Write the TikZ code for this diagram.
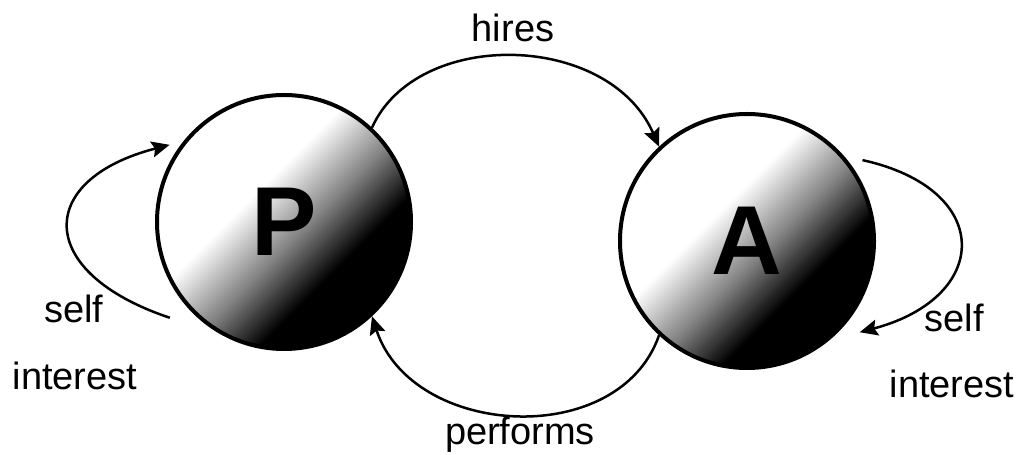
\documentclass[tikz,border=0pt]{standalone}
\usepackage{fontspec}
\setmainfont{Liberation Sans}
\usetikzlibrary{arrows.meta,calc}
\pgfdeclareverticalshading{agentshade}{100bp}{color(0bp)=(black); color(36bp)=(black); color(46bp)=(gray); color(58bp)=(white); color(100bp)=(white)}
\tikzset{
  agent/.style={circle, draw, line width=4pt, minimum size=254pt, inner sep=0pt, shade, shading=agentshade, shading angle=45, font=\fontsize{98}{98}\selectfont\bfseries},
  lbl/.style={font=\fontsize{38}{40}\selectfont, anchor=base, inner sep=0pt},
  arr/.style={-{Stealth[length=18pt,width=16pt,inset=3pt]}, line width=2.5pt},
}
\begin{document}
\begin{tikzpicture}[x=1pt,y=1pt]
  \useasboundingbox (0,0) rectangle (1023,455);
  \node[agent] (P) at (284,233) {P};
  \node[agent] (A) at (747,214) {A};
  % loose ends of the self interest loops
  \coordinate (pin) at ($(P.center)+(220:149)$);
  \coordinate (pout) at ($(P.center)+(146:138)$);
  \coordinate (ain) at ($(A.center)+(35:141)$);
  \coordinate (aout) at ($(A.center)+(-39:145)$);
  \draw[arr] (P.47) .. controls +(45,100) and +(-50,115) .. (A.133);
  \draw[arr] (A.227) .. controls +(-40,-115) and +(40,-122) .. (P.313);
  \draw[arr] (pin) .. controls +(-135,45) and +(-135,-35) .. (pout);
  \draw[arr] (ain) .. controls +(132,-29) and +(132,35) .. (aout);
  \node[lbl] (hires) at (513,413) {hires};
  \node[lbl] (performs) at (520,10) {performs};
  \node[lbl] (pself) at (74,132) {self};
  \node[lbl] (pint) at (75,65) {interest};
  \node[lbl] (aself) at (954,123) {self};
  \node[lbl] (aint) at (952,57) {interest};
\end{tikzpicture}
\end{document}
